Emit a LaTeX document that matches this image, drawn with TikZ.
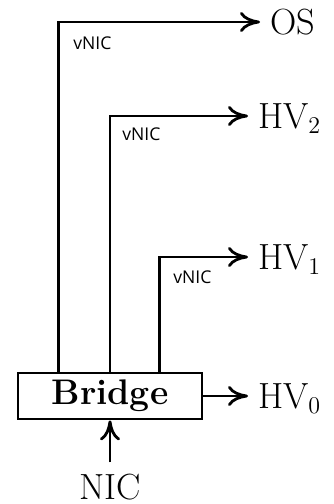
\documentclass[tikz,border=0pt]{standalone}
\usepackage{fontspec}
\newfontfamily\labelfont{Open Sans}
\usetikzlibrary{arrows.meta,calc}
\begin{document}
\begin{tikzpicture}[x=0.5pt,y=-0.5pt,
  line/.style={line width=1.4pt},
  arr/.style={line, -{Computer Modern Rightarrow[length=10pt,width=10pt,line width=1.4pt]}},
  lab/.style={inner sep=0pt, outer sep=5pt, text depth=0pt, anchor=west, font=\fontsize{18.2}{20}\selectfont},
  vnic/.style={inner sep=0pt, anchor=west, font=\labelfont\fontsize{8.8}{10}\selectfont}]
\useasboundingbox (0,0) rectangle (333,504);
\node[line, draw, minimum width=92pt, minimum height=23pt, inner sep=0pt,
  font=\fontsize{17.8}{20}\selectfont\bfseries] (B) at (110,396) {Bridge};
\node[lab] (OS) at (260,22) {OS};
\node[lab] (HV2) at (248,116) {HV$_2$};
\node[lab] (HV1) at (248,257) {HV$_1$};
\node[lab] (HV0) at (248,396) {HV$_0$};
\node[inner sep=0pt, outer sep=6pt, text depth=0pt, anchor=center,
  font=\fontsize{18.2}{20}\selectfont] (NIC) at (110,487) {NIC};
\draw[arr] ($(B.north west)+(42,0)$) |- (OS);
\draw[arr] (B.north) |- (HV2);
\draw[arr] ($(B.north west)+(143,0)$) |- (HV1);
\draw[arr] (B) -- (HV0);
\draw[arr] (NIC) -- (B);
\node[vnic] (v1) at (73,43) {vNIC};
\node[vnic] (v2) at (122,134) {vNIC};
\node[vnic] (v3) at (173,277) {vNIC};
\end{tikzpicture}
\end{document}
